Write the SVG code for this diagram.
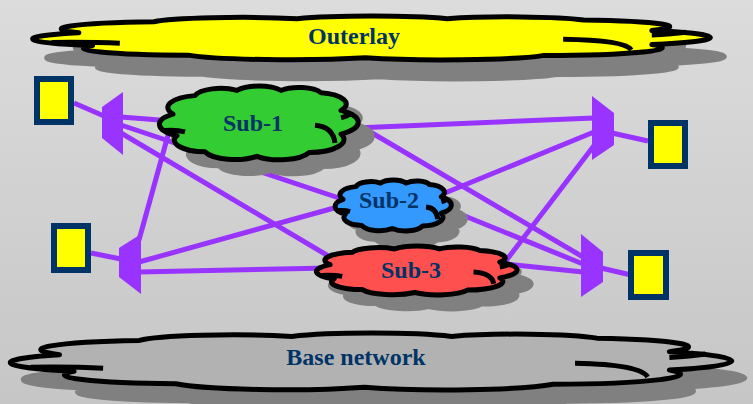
<svg xmlns="http://www.w3.org/2000/svg" xmlns:xlink="http://www.w3.org/1999/xlink" width="753" height="404" viewBox="0 0 753 404">
  <defs>
    <linearGradient id="bg" x1="0" y1="0" x2="0" y2="1">
      <stop offset="0" stop-color="#dcdcdc"/>
      <stop offset="1" stop-color="#c6c6c6"/>
    </linearGradient>
    <!-- cloud outline in a 100x100 box; stroke stays 5px after scaling -->
    <path id="cloud" vector-effect="non-scaling-stroke" d="M6,38 A16.4,16.4 0 0 1 17,13 A13.3,13.3 0 0 1 38,6 A13.2,13.2 0 0 1 60,6 A12.1,12.1 0 0 1 80,9 A15.6,15.6 0 0 1 90,33 A19.2,19.2 0 0 1 90,65 A17.8,17.8 0 0 1 74,90 A15.9,15.9 0 0 1 48,95 A16,16 0 0 1 22,89 A15.7,15.7 0 0 1 8,67 A17.5,17.5 0 0 1 6,38 Z"/>
    <!-- inner puff strokes of the cloud -->
    <path id="puffs" fill="none" vector-effect="non-scaling-stroke" d="M2,60 Q8,59 12,62 M77,53 Q86,55 87,77 M90,43 Q93,41 95,37"/>
  </defs>
  <style>
    .cl { stroke: #000; stroke-width: 5; stroke-linejoin: round; }
    .sh { fill: #808080; stroke: #808080; stroke-width: 5; }
    .lbl { font-family: "Liberation Serif", "Times New Roman", serif; font-weight: bold; font-size: 24px; fill: #003366; text-anchor: middle; }
    .link { stroke: #9933ff; stroke-width: 5; fill: none; }
    .rt { fill: #9933ff; }
    .host { fill: #ffff00; stroke: #003366; stroke-width: 6; }
  </style>

  <rect width="753" height="404" fill="url(#bg)"/>

  <!-- top cloud -->
  <g id="outerlay">
    <use xlink:href="#cloud" class="sh" transform="translate(52,35) scale(6.82,0.44)"/>
    <use xlink:href="#cloud" class="cl" fill="#ffff00" transform="translate(38,16) scale(6.82,0.44)"/>
    <use xlink:href="#puffs" class="cl" transform="translate(38,16) scale(6.82,0.44)"/>
    <text class="lbl" x="354" y="44">Outerlay</text>
  </g>

  <!-- bottom cloud -->
  <g id="base">
    <use xlink:href="#cloud" class="sh" transform="translate(29,350) scale(7.26,0.57)"/>
    <use xlink:href="#cloud" class="cl" fill="#b2b2b2" transform="translate(16,333) scale(7.26,0.57)"/>
    <use xlink:href="#puffs" class="cl" transform="translate(16,333) scale(7.26,0.57)"/>
    <text class="lbl" x="356" y="365">Base network</text>
  </g>

  <!-- links -->
  <g id="links" class="link">
    <line x1="74" y1="103" x2="104" y2="116"/>
    <line x1="121" y1="117" x2="185" y2="122"/>
    <line x1="121" y1="125" x2="345" y2="200"/>
    <line x1="121" y1="133" x2="330" y2="257"/>
    <line x1="91" y1="253" x2="121" y2="259"/>
    <line x1="139" y1="240" x2="170" y2="128"/>
    <line x1="139" y1="262" x2="345" y2="205"/>
    <line x1="139" y1="272" x2="330" y2="268"/>
    <line x1="355" y1="128" x2="594" y2="118"/>
    <line x1="440" y1="195" x2="594" y2="132"/>
    <line x1="505" y1="262" x2="596" y2="143"/>
    <line x1="612" y1="133" x2="648" y2="141"/>
    <line x1="350" y1="120" x2="583" y2="257"/>
    <line x1="450" y1="210" x2="583" y2="264"/>
    <line x1="505" y1="264" x2="583" y2="272"/>
    <line x1="601" y1="268" x2="631" y2="275"/>
  </g>

  <!-- routers -->
  <g id="r1"><polygon class="rt" points="102,107 123,92 123,155 102,138"/></g>
  <g id="r2"><polygon class="rt" points="592,96 614,113 614,145 592,160"/></g>
  <g id="r3"><polygon class="rt" points="119,248 141,234 141,294 119,277"/></g>
  <g id="r4"><polygon class="rt" points="581,234 603,252 603,282 581,297"/></g>

  <!-- hosts -->
  <g id="h1"><rect class="host" x="37" y="79" width="34" height="43"/></g>
  <g id="h2"><rect class="host" x="651" y="123" width="34" height="43"/></g>
  <g id="h3"><rect class="host" x="54" y="226" width="34" height="44"/></g>
  <g id="h4"><rect class="host" x="631" y="253" width="35" height="44"/></g>

  <!-- sub clouds -->
  <g id="sub1">
    <use xlink:href="#cloud" class="sh" transform="translate(175,100) scale(2.0,0.74)"/>
    <use xlink:href="#cloud" class="cl" fill="#33cc33" transform="translate(161,86) scale(2.0,0.74)"/>
    <use xlink:href="#puffs" class="cl" transform="translate(161,86) scale(2.0,0.74)"/>
    <text class="lbl" x="253" y="131">Sub-1</text>
  </g>
  <g id="sub2">
    <use xlink:href="#cloud" class="sh" transform="translate(350,194) scale(1.17,0.51)"/>
    <use xlink:href="#cloud" class="cl" fill="#3399ff" transform="translate(336,180) scale(1.17,0.51)"/>
    <use xlink:href="#puffs" class="cl" transform="translate(336,180) scale(1.17,0.51)"/>
    <text class="lbl" x="389" y="208">Sub-2</text>
  </g>
  <g id="sub3">
    <use xlink:href="#cloud" class="sh" transform="translate(332,260) scale(2.02,0.49)"/>
    <use xlink:href="#cloud" class="cl" fill="#ff5050" transform="translate(318,246) scale(2.02,0.49)"/>
    <use xlink:href="#puffs" class="cl" transform="translate(318,246) scale(2.02,0.49)"/>
    <text class="lbl" x="411" y="278">Sub-3</text>
  </g>
</svg>
